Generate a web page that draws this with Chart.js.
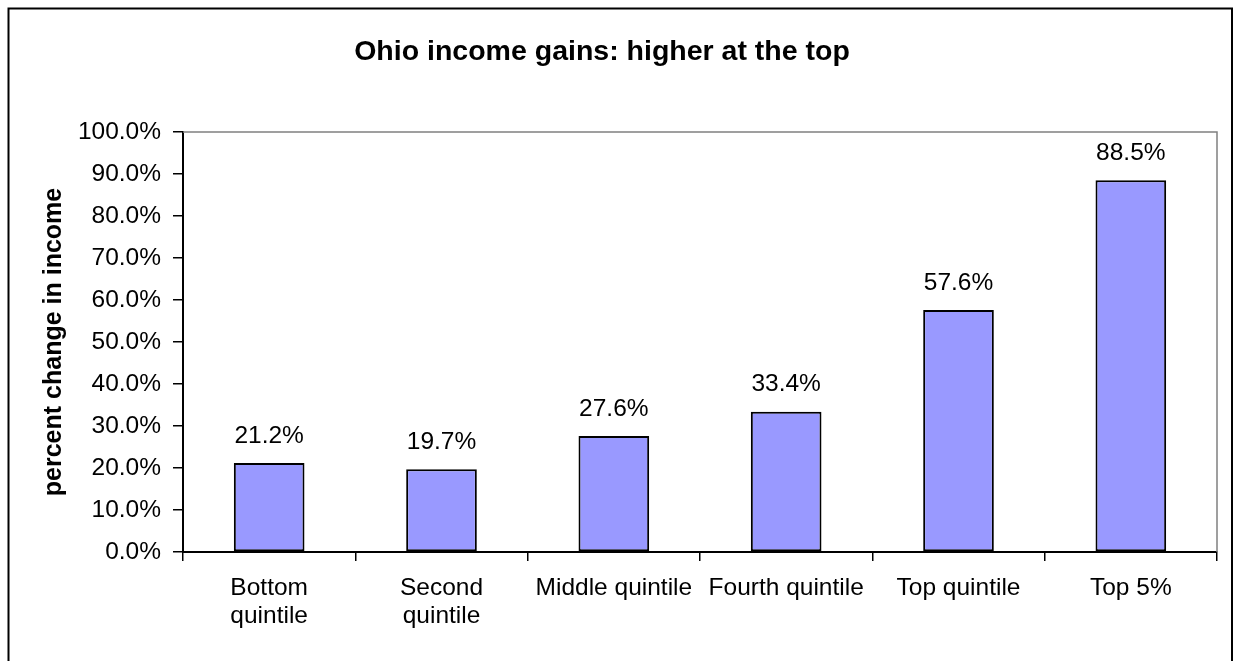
<!DOCTYPE html>
<html>
<head>
<meta charset="utf-8">
<title>Ohio income gains</title>
<script src="https://cdn.jsdelivr.net/npm/chart.js@4.4.1/dist/chart.umd.min.js"></script>
<style>
  html, body { margin: 0; padding: 0; background: #fff; }
  #wrap { width: 1234px; height: 661px; }
</style>
</head>
<body>
<div id="wrap"><canvas id="graphCanvas" width="1234" height="661"></canvas></div>
<script>
// data
var quintiles = [["Bottom", "quintile"], ["Second", "quintile"], "Middle quintile", "Fourth quintile", "Top quintile", "Top 5%"];
var pctChange = [21.2, 19.7, 27.6, 33.4, 57.6, 88.5];
var yTickLabels = ["0.0%", "10.0%", "20.0%", "30.0%", "40.0%", "50.0%", "60.0%", "70.0%", "80.0%", "90.0%", "100.0%"];

var chartTitle = "Ohio income gains: higher at the top";
var yTitle = "percent change in income";

var FONT = "'Liberation Sans', Arial, sans-serif";

// frame, title and plot border like the old excel chart
var framePlugin = {
    id: 'frame',
    beforeDatasetsDraw: function (chart) {
        var ctx = chart.ctx, a = chart.chartArea;
        ctx.save();
        ctx.strokeStyle = '#808080';
        ctx.lineWidth = 1.5;
        ctx.beginPath();
        ctx.moveTo(a.left, a.top);
        ctx.lineTo(a.right, a.top);
        ctx.lineTo(a.right, a.bottom);
        ctx.stroke();
        ctx.restore();
    },
    afterDraw: function (chart) {
        var ctx = chart.ctx;
        ctx.save();
        ctx.strokeStyle = '#000';
        ctx.lineWidth = 2;
        ctx.strokeRect(8.5, 8.5, 1223.5, 680);
        ctx.fillStyle = '#000';
        ctx.font = "bold 28.5px " + FONT;
        ctx.textAlign = 'center';
        ctx.textBaseline = 'middle';
        ctx.fillText(chartTitle, 602, 52);
        ctx.restore();
    }
};

// value labels over each bar
var valueLabels = {
    id: 'valueLabels',
    afterDatasetsDraw: function (chart) {
        var ctx = chart.ctx;
        var meta = chart.getDatasetMeta(0);
        ctx.save();
        ctx.fillStyle = '#000';
        ctx.font = "24.5px " + FONT;
        ctx.textAlign = 'center';
        ctx.textBaseline = 'middle';
        meta.data.forEach(function (bar, i) {
            ctx.fillText(pctChange[i].toFixed(1) + '%', bar.x, bar.y - 27);
        });
        ctx.restore();
    }
};

var chartdata = {
    labels: quintiles,
    datasets: [
        {
            label: 'percent change',
            backgroundColor: '#9999FF',
            borderColor: '#000000',
            borderWidth: 2,
            borderSkipped: false,
            categoryPercentage: 1.0,
            barPercentage: 0.41,
            data: pctChange
        }
    ]
};

var barGraph = new Chart(document.getElementById('graphCanvas'), {
    type: 'bar',
    data: chartdata,
    plugins: [framePlugin, valueLabels],
    options: {
        responsive: false,
        animation: false,
        layout: { padding: { left: 0, right: 17, top: 132, bottom: 0 } },
        plugins: {
            legend: { display: false },
            tooltip: { enabled: false },
            title: { display: false }
        },
        scales: {
            x: {
                afterFit: function (scale) { scale.height = 109; },
                grid: {
                    display: true,
                    drawOnChartArea: false,
                    drawTicks: true,
                    tickLength: 9,
                    color: '#000',
                    lineWidth: 1.5
                },
                border: { display: true, color: '#000', width: 2 },
                ticks: {
                    color: '#000',
                    padding: 13,
                    maxRotation: 0,
                    autoSkip: false,
                    font: { family: FONT, size: 24.5, lineHeight: 1.15 }
                }
            },
            y: {
                min: 0,
                max: 100,
                afterFit: function (scale) { scale.width = 183; },
                grid: {
                    display: true,
                    drawOnChartArea: false,
                    drawTicks: true,
                    tickLength: 10,
                    color: '#000',
                    lineWidth: 1.5
                },
                border: { display: true, color: '#000', width: 2 },
                ticks: {
                    stepSize: 10,
                    color: '#000',
                    padding: 12,
                    font: { family: FONT, size: 24.5 },
                    callback: function (value, index) { return yTickLabels[index]; }
                },
                title: {
                    display: true,
                    text: yTitle,
                    color: '#000',
                    padding: { top: 39, bottom: 0 },
                    font: { family: FONT, size: 25, weight: 'bold', lineHeight: 1.2 }
                }
            }
        }
    }
});
</script>
</body>
</html>
